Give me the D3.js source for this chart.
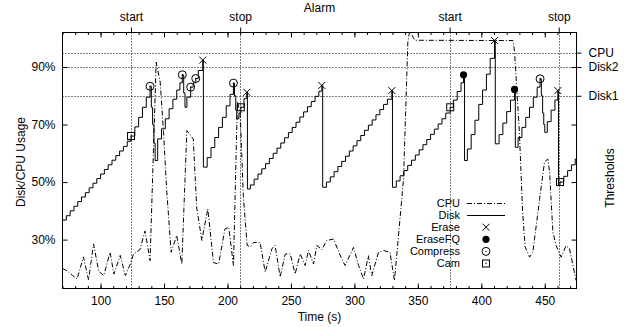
<!DOCTYPE html>
<html>
<head>
<meta charset="utf-8">
<script src="https://cdn.jsdelivr.net/npm/d3@7"></script>
<style>
body { margin: 0; background: #fff; }
text { font-family: "Liberation Sans", Arial, Helvetica, sans-serif; font-size: 12px; fill: #000; }
.legend text { font-size: 11px; }
</style>
</head>
<body>
<svg id="chart" width="632" height="327"></svg>
<script>
// CPU usage (%) , [time s, value]
var cpuData = [
	[70,20],[74,19],[78,17.5],[81.5,16.3],[86.5,24],[90.5,16],[94.5,28.5],[98.5,19],[102.5,17.5],
	[107.5,25.6],[110.5,18],[115.5,24.5],[119.5,17.5],[123,21],[126,25],[131,26.5],[135,33],[139,22.7],
	[143.8,91.7],[147,84.7],[149.6,67.3],[152.2,46.5],[155.6,25.6],[160,31.4],[164,21.5],[168,67.9],
	[173,65],[175.8,41],[179.8,29.7],[184.5,40.7],[189,22],[193,21.5],[198,33.7],[201,34.3],[204.7,21],
	[207.8,78],[210,74],[212.5,45],[215.5,28],[218,27.5],[220.5,29],[225.7,29],[229.7,18.7],[235,26.8],
	[237.5,28],[241.5,17],[245.5,25],[249.5,25],[253.3,18],[257.2,25],[261.2,21],[263.8,26.2],[267.8,21.5],
	[270.4,28],[274.3,26.5],[278.3,29.7],[283.5,30.2],[290,23.3],[292.7,21],[299.3,27.3],[303.3,21],
	[307.2,16.3],[311,24.4],[313.7,17.5],[319,25.6],[323,26.2],[328,25.6],[331.6,15.8],[338.7,51],
	[342.1,98.6],[343.5,102.5],[347.6,99.3],[425,99.2],[426.2,95.2],[430,67.3],[432.5,40],[434.5,27.5],
	[438,23.9],[440.6,25.6],[445.9,44],[449.8,57],[452.4,58],[453.8,53.4],[456.4,32.6],[459,27.9],
	[462.9,23.9],[466.8,27.9],[469.5,26.8],[474.7,15.8]
];

// Disk usage (%), staircase
var diskData = [
	[70,36.8],[73,38.3],[76,40],[79,41.6],[82,43.2],[85,44.8],[88,46.3],[91,48],[94,49.6],[97,51.2],
	[100,52.8],[103,54.4],[106,56],[109,57.6],[112,59.2],[115,60.8],[118,62.4],[121,64.2],[124,66],
	[127,69.2],[130,72.5],[133,76],[136,79.5],[139,83.3],[140,76],[141,70],[142,63.5],[143,57.5],[145,65],
	[148,68.5],[151,72],[154,75.5],[157,78.8],[160,82],[162.5,84.5],[164.4,87.3],[165.5,81],[166.5,76],
	[168,79.5],[171,83],[173,84.5],[175,86],[177,88.8],[180.5,92.4],[181,55.2],
	[184,58.5],[187,62],[190,65.5],[193,69],[196,72.5],[199,76.5],[202,80.5],[204.7,84.4],
	[205.5,80],[206.5,75],[207.3,72],[209,74],[210.5,76],[213,79],[215.2,81.2],[215.7,47.6],
	[218,49],[221,51],[224,52.8],[227,54.6],[230,56.4],[233,58.2],[236,60],[239,61.8],[242,63.6],
	[245,65.4],[248,67.2],[251,69],[254,70.8],[257,72.6],[260,74.4],[263,76.2],[266,78],[269,79.8],
	[272,81.6],[274.3,83.6],[275,48.2],
	[278,50],[281,51.8],[284,53.6],[287,55.4],[290,57.2],[293,59],[296,60.8],[299,62.6],[302,64.4],
	[305,66.2],[308,68],[311,69.8],[314,71.6],[317,73.4],[320,75.2],[323,77],[326,78.8],[329.5,81.8],
	[330,48.2],[333,50.4],[336,52.2],[339,54],[342,55.8],[345,57.6],[348,59.4],[351,61.2],[354,63],
	[357,64.8],[360,66.6],[363,68.4],[366,70.2],[369,72],[372,74],[375.5,76],
	[378,78.5],[381,81.5],[384,84.5],[386,87.3],[386.8,57.5],
	[389,61.5],[392,66.5],[395,71.5],[398,77],[401,82],[404,87.5],[407,93],[410.4,99.2],[411,63.3],
	[414,66.5],[417,70.5],[420,74.5],[423,78.5],[426.2,82.2],[426.8,62.1],
	[429,65.5],[432,69],[435,72.5],[438,76],[441,79.5],[444,83],[446.3,85.9],
	[447.3,80],[448.3,74],[449.2,70],[450,67.3],[452,71],[455,75],[458,78.5],[460.3,81.8],[460.8,49],
	[462,50],[465,52],[468,54],[471,56],[474,58],[475,58.6]
];

// eventos
var eraseData = [[180.5,92.4],[215.2,81.2],[274.3,83.6],[329.5,81.8],[410.4,99.2],[460.3,81.8]];
var eraseFQData = [[386,87.3],[426.2,82.2]];
var compressData = [[139,83.3],[164.4,87.3],[171,83],[175,86],[204.7,84.4],[446.3,85.9]];
var camData = [[124,66],[210.5,76],[375.5,76],[462,50]];

// alarma (eje x2) y umbrales (eje y2)
var alarmTimes = [124, 210, 375, 461];
var alarmLabels = ["start", "stop", "start", "stop"];
var thresholdValues = [95, 90, 80];
var thresholdLabels = ["CPU", "Disk2", "Disk1"];

var xTicks = [100, 150, 200, 250, 300, 350, 400, 450];
var xMinorTicks = d3.range(70, 476, 10);
var yTicks = [30, 50, 70, 90];

var legendNames = ["CPU", "Disk", "Erase", "EraseFQ", "Compress", "Cam"];

var svg = d3.select("#chart");
var plot = {l: 62.5, r: 576.5, t: 32.5, b: 288.5};

var x = d3.scaleLinear().domain([70, 475]).range([plot.l, plot.r]);
var y = d3.scaleLinear().domain([13, 102]).range([plot.b, plot.t]);

svg.append("clipPath").attr("id", "clip")
	.append("rect")
	.attr("x", plot.l).attr("y", plot.t)
	.attr("width", plot.r - plot.l).attr("height", plot.b - plot.t);

// grid punteado
var grid = svg.append("g").attr("stroke", "#000").attr("stroke-width", 1).attr("stroke-dasharray", "1,2");
grid.selectAll("line.h").data(thresholdValues).enter().append("line")
	.attr("x1", plot.l).attr("x2", plot.r)
	.attr("y1", function(d){ return Math.round(y(d)) + 0.5; })
	.attr("y2", function(d){ return Math.round(y(d)) + 0.5; });
grid.selectAll("line.v").data(alarmTimes).enter().append("line")
	.attr("y1", plot.t).attr("y2", plot.b)
	.attr("x1", function(d){ return Math.round(x(d)) + 0.5; })
	.attr("x2", function(d){ return Math.round(x(d)) + 0.5; });

function cleanAxis(g){
	g.select(".domain").remove();
	g.selectAll("text").attr("fill", "#000");
	g.attr("font-family", null).attr("font-size", null);
	g.selectAll("line").attr("stroke", "#000");
}

// eje x abajo
svg.append("g").attr("transform", "translate(0," + plot.b + ")")
	.call(d3.axisBottom(x).tickValues(xMinorTicks).tickSize(-2.5).tickFormat(""))
	.call(cleanAxis);
svg.append("g").attr("transform", "translate(0," + plot.b + ")")
	.call(d3.axisBottom(x).tickValues(xTicks).tickSize(-5).tickPadding(8).tickFormat(d3.format("d")))
	.call(cleanAxis);

// espejo arriba
svg.append("g").attr("transform", "translate(0," + plot.t + ")")
	.call(d3.axisTop(x).tickValues(xMinorTicks).tickSize(-2.5).tickFormat(""))
	.call(cleanAxis);
svg.append("g").attr("transform", "translate(0," + plot.t + ")")
	.call(d3.axisTop(x).tickValues(xTicks).tickSize(-5).tickFormat(""))
	.call(cleanAxis);

// eje x2: start / stop
svg.append("g").attr("transform", "translate(0," + plot.t + ")")
	.call(d3.axisTop(x).tickValues(alarmTimes).tickSize(5).tickPadding(7)
		.tickFormat(function(d, i){ return alarmLabels[i]; }))
	.call(cleanAxis);

// eje y izquierdo
svg.append("g").attr("transform", "translate(" + plot.l + ",0)")
	.call(d3.axisLeft(y).tickValues(yTicks).tickSize(-5).tickPadding(7)
		.tickFormat(function(d){ return d + "%"; }))
	.call(cleanAxis);

// espejo derecha
svg.append("g").attr("transform", "translate(" + plot.r + ",0)")
	.call(d3.axisRight(y).tickValues(yTicks).tickSize(-5).tickFormat(""))
	.call(cleanAxis);

// eje y2: umbrales
svg.append("g").attr("transform", "translate(" + plot.r + ",0)")
	.call(d3.axisRight(y).tickValues(thresholdValues).tickSize(5).tickPadding(7)
		.tickFormat(function(d, i){ return thresholdLabels[i]; }))
	.call(cleanAxis);

// borde
svg.append("rect")
	.attr("x", plot.l).attr("y", plot.t)
	.attr("width", plot.r - plot.l).attr("height", plot.b - plot.t)
	.attr("fill", "none").attr("stroke", "#000").attr("stroke-width", 1);

// lineas de datos
var data = svg.append("g").attr("clip-path", "url(#clip)");

var cpuLine = d3.line().x(function(d){ return x(d[0]); }).y(function(d){ return y(d[1]); });
var diskLine = d3.line().curve(d3.curveStepAfter)
	.x(function(d){ return x(d[0]); }).y(function(d){ return y(d[1]); });

data.append("path").datum(cpuData)
	.attr("d", cpuLine)
	.attr("fill", "none").attr("stroke", "#000").attr("stroke-width", 1)
	.attr("stroke-dasharray", "5,2,1,2");

data.append("path").datum(diskData)
	.attr("d", diskLine)
	.attr("fill", "none").attr("stroke", "#000").attr("stroke-width", 1);

// simbolos
function drawMarker(g, kind, cx, cy){
	if (kind == "Erase"){
		g.append("path")
			.attr("d", "M" + (cx-3.5) + "," + (cy-3.5) + "L" + (cx+3.5) + "," + (cy+3.5) +
				"M" + (cx-3.5) + "," + (cy+3.5) + "L" + (cx+3.5) + "," + (cy-3.5))
			.attr("stroke", "#000").attr("stroke-width", 1);
	}
	else if (kind == "EraseFQ"){
		g.append("circle").attr("cx", cx).attr("cy", cy).attr("r", 3.6).attr("fill", "#000");
	}
	else if (kind == "Compress"){
		g.append("circle").attr("cx", cx).attr("cy", cy).attr("r", 4)
			.attr("fill", "none").attr("stroke", "#000").attr("stroke-width", 1);
		g.append("circle").attr("cx", cx).attr("cy", cy).attr("r", 0.7).attr("fill", "#000");
	}
	else if (kind == "Cam"){
		g.append("rect").attr("x", cx-3.5).attr("y", cy-3.5).attr("width", 7).attr("height", 7)
			.attr("fill", "none").attr("stroke", "#000").attr("stroke-width", 1);
		g.append("circle").attr("cx", cx).attr("cy", cy).attr("r", 0.7).attr("fill", "#000");
	}
}

var marks = svg.append("g");
var markerSets = [["Erase", eraseData], ["EraseFQ", eraseFQData], ["Compress", compressData], ["Cam", camData]];
markerSets.forEach(function(s){
	s[1].forEach(function(d){
		drawMarker(marks, s[0], x(d[0]), y(d[1]));
	});
});

// leyenda
var legend = svg.append("g").attr("class", "legend");
var legTextX = 460, legSampleX1 = 467, legSampleX2 = 505, legY0 = 203, legDy = 12.1;
legendNames.forEach(function(name, i){
	var ly = legY0 + i * legDy;
	legend.append("text").attr("x", legTextX).attr("y", ly).attr("dy", "0.35em")
		.attr("text-anchor", "end").text(name);
	if (name == "CPU" || name == "Disk"){
		legend.append("line")
			.attr("x1", legSampleX1).attr("x2", legSampleX2)
			.attr("y1", Math.round(ly) + 0.5).attr("y2", Math.round(ly) + 0.5)
			.attr("stroke", "#000").attr("stroke-width", 1)
			.attr("stroke-dasharray", name == "CPU" ? "5,2,1,2" : null);
	}
	else {
		drawMarker(legend, name, (legSampleX1 + legSampleX2) / 2, ly);
	}
});

// titulos
svg.append("text").attr("x", (plot.l + plot.r) / 2).attr("y", 12)
	.attr("text-anchor", "middle").text("Alarm");
svg.append("text").attr("x", (plot.l + plot.r) / 2).attr("y", 321)
	.attr("text-anchor", "middle").text("Time (s)");
svg.append("text").attr("transform", "translate(24.5,162) rotate(-90)")
	.attr("text-anchor", "middle").text("Disk/CPU Usage");
svg.append("text").attr("transform", "translate(614,178) rotate(-90)")
	.attr("text-anchor", "middle").text("Thresholds");
</script>
</body>
</html>
